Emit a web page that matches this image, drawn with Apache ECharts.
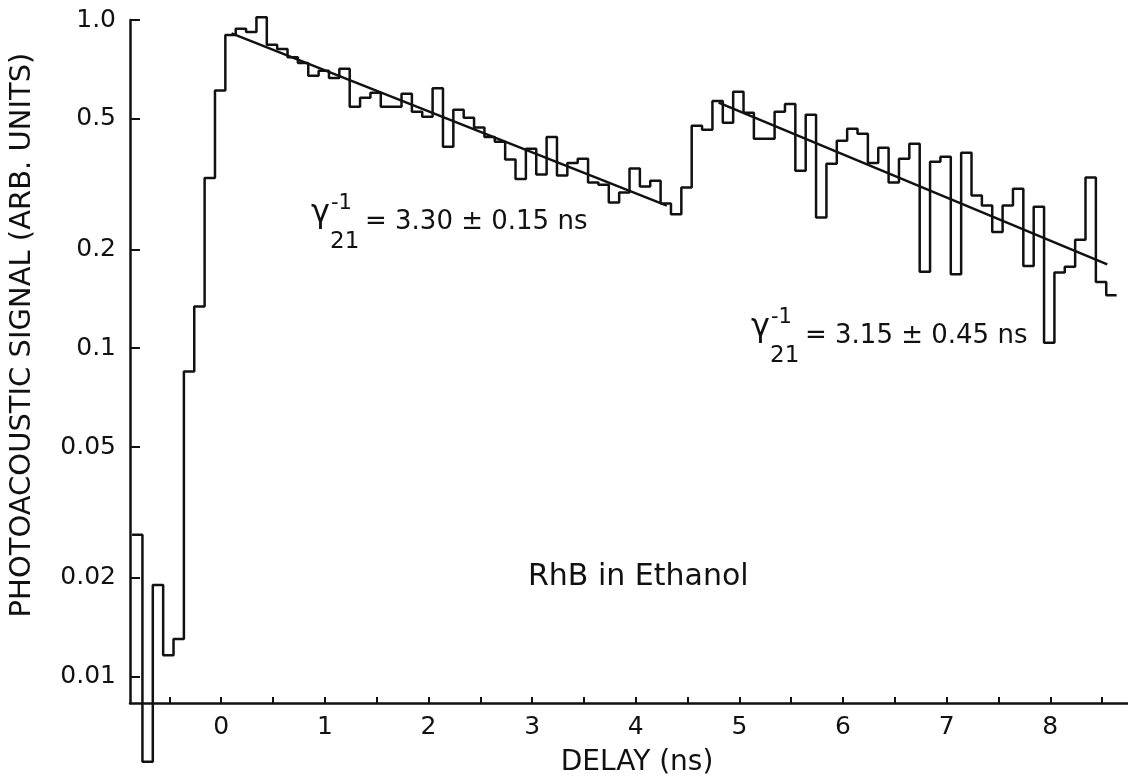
<!DOCTYPE html>
<html>
<head>
<meta charset="utf-8">
<script src="https://cdn.jsdelivr.net/npm/echarts@6.0.0/dist/echarts.min.js"></script>
<style>
html, body { margin: 0; padding: 0; background: #fff; }
#chart { width: 1128px; height: 782px; }
</style>
</head>
<body>
<div id="chart"></div>
<script>
// histogram bins: left edge of first bin and width, in ns
var binStart = -0.86;
var binWidth = 0.1;
// photoacoustic signal per bin (arb. units)
var signal = [
  0.027, 0.0055, 0.019, 0.0116, 0.013, 0.085, 0.134, 0.33, 0.61, 0.90,
  0.94, 0.92, 1.02, 0.84, 0.816, 0.77, 0.74, 0.676, 0.70, 0.666,
  0.71, 0.544, 0.58, 0.60, 0.544, 0.544, 0.596, 0.525, 0.507, 0.62,
  0.411, 0.533, 0.504, 0.47, 0.44, 0.426, 0.376, 0.328, 0.405, 0.338,
  0.44, 0.336, 0.367, 0.378, 0.32, 0.315, 0.278, 0.298, 0.353, 0.311,
  0.324, 0.276, 0.256, 0.309, 0.476, 0.463, 0.567, 0.486, 0.604, 0.522,
  0.435, 0.435, 0.525, 0.555, 0.347, 0.514, 0.25, 0.365, 0.429, 0.466,
  0.45, 0.367, 0.408, 0.32, 0.378, 0.42, 0.171, 0.37, 0.383, 0.168,
  0.394, 0.292, 0.272, 0.226, 0.272, 0.306, 0.178, 0.27, 0.104, 0.17,
  0.177, 0.214, 0.331, 0.159, 0.145
];
// exponential fits (straight on log scale): [delay, signal] end points
var fitFirst = [[0.1, 0.91], [4.3, 0.272]];
var fitSecond = [[4.8, 0.56], [8.55, 0.18]];

var delayLabels = [0, 1, 2, 3, 4, 5, 6, 7, 8];
var delayTicks = [-0.5, 0, 0.5, 1, 1.5, 2, 2.5, 3, 3.5, 4, 4.5, 5, 5.5, 6, 6.5, 7, 7.5, 8, 8.5];
var signalTicks = [1.0, 0.5, 0.2, 0.1, 0.05, 0.02, 0.01];
var signalTickText = ['1.0', '0.5', '0.2', '0.1', '0.05', '0.02', '0.01'];

var FONT = 'DejaVu Sans';
var INK = '#111';

function histogramSteps() {
  var pts = [];
  for (var i = 0; i < signal.length; i++) {
    pts.push([+(binStart + i * binWidth).toFixed(3), signal[i]]);
  }
  pts.push([+(binStart + signal.length * binWidth).toFixed(3), signal[signal.length - 1]]);
  return pts;
}

function gammaNote(left, mid, text) {
  var st = function (t, size) {
    return { text: t, fontSize: size, fontFamily: FONT, fill: INK, verticalAlign: 'middle' };
  };
  return {
    type: 'group',
    children: [
      { type: 'text', x: left, y: mid - 8, style: st('γ', 32) },
      { type: 'text', x: left + 20, y: mid - 18, style: st('-1', 21) },
      { type: 'text', x: left + 19, y: mid + 20, style: st('21', 23) },
      { type: 'text', x: left + 54, y: mid, style: st(text, 26) }
    ]
  };
}

var chart = echarts.init(document.getElementById('chart'));
var option = {
  animation: false,
  backgroundColor: '#fff',
  grid: { left: 130, right: 0, top: 20, bottom: 77 },
  xAxis: {
    type: 'value',
    min: -0.88,
    max: 8.75,
    name: 'DELAY (ns)',
    nameLocation: 'middle',
    nameGap: 46,
    nameTextStyle: { fontFamily: FONT, fontSize: 28, color: INK, padding: [0, 0, 0, 16] },
    axisLine: { onZero: false, lineStyle: { color: INK, width: 2.5 } },
    axisTick: { inside: true, length: 6, customValues: delayTicks, lineStyle: { color: INK, width: 2 } },
    axisLabel: { customValues: delayLabels, margin: 12, fontFamily: FONT, fontSize: 25, color: INK },
    splitLine: { show: false }
  },
  yAxis: {
    type: 'log',
    min: 0.0083,
    max: 1.0,
    axisLine: { show: true, onZero: false, lineStyle: { color: INK, width: 2.5 } },
    axisTick: { show: true, inside: true, length: 10, customValues: signalTicks, lineStyle: { color: INK, width: 2 } },
    axisLabel: {
      customValues: signalTicks,
      margin: 14,
      fontFamily: FONT,
      fontSize: 25,
      color: INK,
      formatter: function (v) {
        for (var i = 0; i < signalTicks.length; i++) {
          if (Math.abs(v - signalTicks[i]) < 1e-9) return signalTickText[i];
        }
        return '';
      }
    },
    minorTick: { show: false },
    splitLine: { show: false }
  },
  series: [
    {
      name: 'signal',
      type: 'line',
      step: 'end',
      clip: false,
      showSymbol: false,
      lineStyle: { color: INK, width: 2.5 },
      data: histogramSteps()
    },
    {
      name: 'fit 3.30 ns',
      type: 'line',
      clip: false,
      showSymbol: false,
      lineStyle: { color: INK, width: 2.5 },
      data: fitFirst
    },
    {
      name: 'fit 3.15 ns',
      type: 'line',
      clip: false,
      showSymbol: false,
      lineStyle: { color: INK, width: 2.5 },
      data: fitSecond
    }
  ],
  graphic: [
    {
      type: 'text', x: 22, y: 335, rotation: Math.PI / 2,
      style: { text: 'PHOTOACOUSTIC SIGNAL (ARB. UNITS)', fontSize: 29, fontFamily: FONT, fill: INK, align: 'center', verticalAlign: 'middle' }
    },
    gammaNote(311, 222, '= 3.30 ± 0.15 ns'),
    gammaNote(751, 336, '= 3.15 ± 0.45 ns'),
    {
      type: 'text', x: 528, y: 577,
      style: { text: 'RhB in Ethanol', fontSize: 30, fontFamily: FONT, fill: INK, verticalAlign: 'middle' }
    }
  ]
};
chart.setOption(option);
</script>
</body>
</html>
